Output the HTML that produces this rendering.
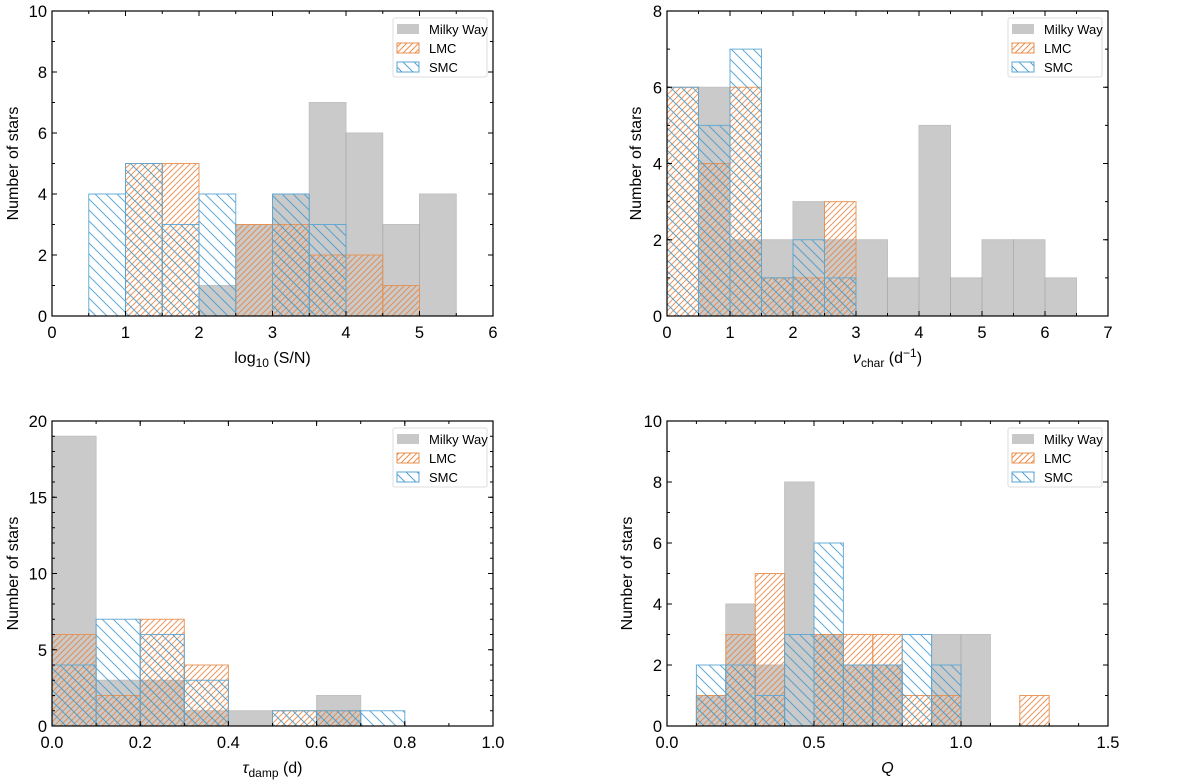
<!DOCTYPE html>
<html><head><meta charset="utf-8"><style>
body{margin:0;background:#fff;}
svg{display:block;font-family:"Liberation Sans","DejaVu Sans",sans-serif;}
</style></head><body>
<svg id="fig" width="1200" height="780" viewBox="0 0 1200 780" xmlns="http://www.w3.org/2000/svg">
<defs>
<pattern id="hl" patternUnits="userSpaceOnUse" width="6" height="6"><path d="M-1,7 L7,-1 M-4,4 L4,-4 M2,10 L10,2" stroke="#e8813a" stroke-width="1" opacity="0.9"/></pattern>
<pattern id="hs" patternUnits="userSpaceOnUse" width="11" height="11"><path d="M-1,-1 L12,12 M-6,5 L6,17 M5,-6 L17,6" stroke="#3d97cc" stroke-width="1" opacity="0.9"/></pattern>
</defs>
</svg>
<script>
// Panel 1: log10(S/N)
const p1Edges=[0,0.5,1,1.5,2,2.5,3,3.5,4,4.5,5,5.5];
const p1MW=[0,0,0,0,1,3,4,7,6,3,4];
const p1LMC=[0,0,5,5,0,3,3,2,2,1,0];
const p1SMC=[0,4,5,3,4,0,4,3,0,0,0];
// Panel 2: nu_char
const p2Edges=[0,0.5,1,1.5,2,2.5,3,3.5,4,4.5,5,5.5,6,6.5];
const p2MW=[0,6,2,2,3,2,2,1,5,1,2,2,1];
const p2LMC=[6,4,6,1,1,3,0,0,0,0,0,0,0];
const p2SMC=[6,5,7,1,2,1,0,0,0,0,0,0,0];
// Panel 3: tau_damp
const p3Edges=[0,0.1,0.2,0.3,0.4,0.5,0.6,0.7,0.8];
const p3MW=[19,3,3,1,1,0,2,0];
const p3LMC=[6,2,7,4,0,1,1,0];
const p3SMC=[4,7,6,3,0,1,1,1];
// Panel 4: Q
const p4Edges=[0.1,0.2,0.3,0.4,0.5,0.6,0.7,0.8,0.9,1.0,1.1,1.2,1.3];
const p4MW=[1,4,2,8,3,2,2,0,3,3,0,0];
const p4LMC=[1,3,5,0,3,3,3,1,1,0,0,1];
const p4SMC=[2,2,1,3,6,2,2,3,2,0,0,0];
// ticks
const p1XTicks=[0,1,2,3,4,5,6], p1YTicks=[0,2,4,6,8,10];
const p2XTicks=[0,1,2,3,4,5,6,7], p2YTicks=[0,2,4,6,8];
const p3XTicks=[0,0.2,0.4,0.6,0.8,1.0], p3YTicks=[0,5,10,15,20];
const p4XTicks=[0,0.5,1.0,1.5], p4YTicks=[0,2,4,6,8,10];
const legendLabels=["Milky Way","LMC","SMC"];

const NS="http://www.w3.org/2000/svg";
const svg=document.getElementById('fig');
function mk(tag,attrs,parent){const e=document.createElementNS(NS,tag);for(const k in attrs)e.setAttribute(k,attrs[k]);(parent||svg).appendChild(e);return e;}

function panel(cfg){
  const g=mk('g',{});
  
  
  const L=cfg.L,R=cfg.R,T=cfg.T,B=cfg.B;
  const sx=v=>L+(v-cfg.xmin)/(cfg.xmax-cfg.xmin)*(R-L);
  const sy=v=>B-(v-cfg.ymin)/(cfg.ymax-cfg.ymin)*(B-T);
  function hist(vals,fill,stroke,op,nm){
    for(let i=0;i<vals.length;i++){
      if(!vals[i])continue;
      const x0=sx(cfg.edges[i]),x1=sx(cfg.edges[i+1]),y=sy(vals[i]);
      const r=mk('rect',{x:x0,y:y,width:x1-x0,height:B-y,fill:fill,stroke:stroke,'stroke-width':1,opacity:op},g);
      
      
    }
  }
  hist(cfg.mw,'#b4b4b4','#a8a8a8',0.7,'milky-way');
  hist(cfg.lmc,'url(#hl)','#e8904e',0.9,'lmc');
  hist(cfg.smc,'url(#hs)','#5aa6d4',0.9,'smc');
  mk('rect',{x:L,y:T,width:R-L,height:B-T,fill:'none',stroke:'#000','stroke-width':1.2},g);
  cfg.xt.forEach(v=>{const x=sx(v);
    mk('line',{x1:x,y1:B,x2:x,y2:B-5,stroke:'#000'},g);
    mk('line',{x1:x,y1:T,x2:x,y2:T+5,stroke:'#000'},g);
    const t=mk('text',{x:x,y:B+22,'text-anchor':'middle','font-size':16.5,fill:'#000'},g);t.textContent=cfg.xfmt(v);
    
    
  });
  for(let v=cfg.xmin;v<=cfg.xmax+1e-9;v+=cfg.xminor){const x=sx(v);
    mk('line',{x1:x,y1:B,x2:x,y2:B-3,stroke:'#000'},g);
    mk('line',{x1:x,y1:T,x2:x,y2:T+3,stroke:'#000'},g);}
  cfg.yt.forEach(v=>{const y=sy(v);
    mk('line',{x1:L,y1:y,x2:L+5,y2:y,stroke:'#000'},g);
    mk('line',{x1:R,y1:y,x2:R-5,y2:y,stroke:'#000'},g);
    const t=mk('text',{x:L-5,y:y+6,'text-anchor':'end','font-size':16.5,fill:'#000'},g);t.textContent=v;
    
    
  });
  for(let v=cfg.ymin;v<=cfg.ymax+1e-9;v+=cfg.yminor){const y=sy(v);
    mk('line',{x1:L,y1:y,x2:L+3,y2:y,stroke:'#000'},g);
    mk('line',{x1:R,y1:y,x2:R-3,y2:y,stroke:'#000'},g);}
  const yl=mk('text',{x:0,y:0,'text-anchor':'middle','font-size':16,transform:`translate(${cfg.ylx},${(T+B)/2}) rotate(-90)`},g);
  yl.textContent='Number of stars';
  
  
  const xl=mk('text',{x:(L+R)/2,y:B+47,'text-anchor':'middle','font-size':16},g);
  xl.innerHTML=cfg.xlabel;
  
  
  const lx=R-100,ly=T+7;
  const lg=mk('g',{},g);
  
  
  mk('rect',{x:lx,y:ly,width:94,height:59,rx:2,fill:'#fff',stroke:'#ddd'},lg);
  const fills=[['#c8c8c8','none'],['url(#hl)','#e8904e'],['url(#hs)','#5aa6d4']];
  legendLabels.forEach((lab,i)=>{
    const cy=ly+11+i*19;
    mk('rect',{x:lx+4,y:cy-5,width:22,height:10,fill:fills[i][0],stroke:fills[i][1]},lg);
    const t=mk('text',{x:lx+36,y:cy+5,'font-size':13},lg);t.textContent=lab;
    
    
  });
}
const f1=v=>String(v), f2=v=>v.toFixed(1);
panel({name:'panel-snr',L:52,R:493,T:11,B:316,xmin:0,xmax:6,ymin:0,ymax:10,xminor:0.5,yminor:1,xt:p1XTicks,yt:p1YTicks,xfmt:f1,edges:p1Edges,mw:p1MW,lmc:p1LMC,smc:p1SMC,ylx:18,xlabel:'log<tspan font-size="12" dy="4">10</tspan><tspan dy="-4"> (S/N)</tspan>'});
panel({name:'panel-nuchar',L:667,R:1108,T:11,B:316,xmin:0,xmax:7,ymin:0,ymax:8,xminor:0.5,yminor:1,xt:p2XTicks,yt:p2YTicks,xfmt:f1,edges:p2Edges,mw:p2MW,lmc:p2LMC,smc:p2SMC,ylx:641,xlabel:'<tspan font-style="italic">ν</tspan><tspan font-size="12" dy="4">char</tspan><tspan dy="-4"> (d</tspan><tspan font-size="12" dy="-6">−1</tspan><tspan dy="6">)</tspan>'});
panel({name:'panel-taudamp',L:52,R:493,T:421,B:726,xmin:0,xmax:1,ymin:0,ymax:20,xminor:0.1,yminor:1,xt:p3XTicks,yt:p3YTicks,xfmt:f2,edges:p3Edges,mw:p3MW,lmc:p3LMC,smc:p3SMC,ylx:18,xlabel:'<tspan font-style="italic">τ</tspan><tspan font-size="12" dy="4">damp</tspan><tspan dy="-4"> (d)</tspan>'});
panel({name:'panel-q',L:667,R:1108,T:421,B:726,xmin:0,xmax:1.5,ymin:0,ymax:10,xminor:0.1,yminor:1,xt:p4XTicks,yt:p4YTicks,xfmt:f2,edges:p4Edges,mw:p4MW,lmc:p4LMC,smc:p4SMC,ylx:632,xlabel:'<tspan font-style="italic">Q</tspan>'});
</script>
</body></html>
